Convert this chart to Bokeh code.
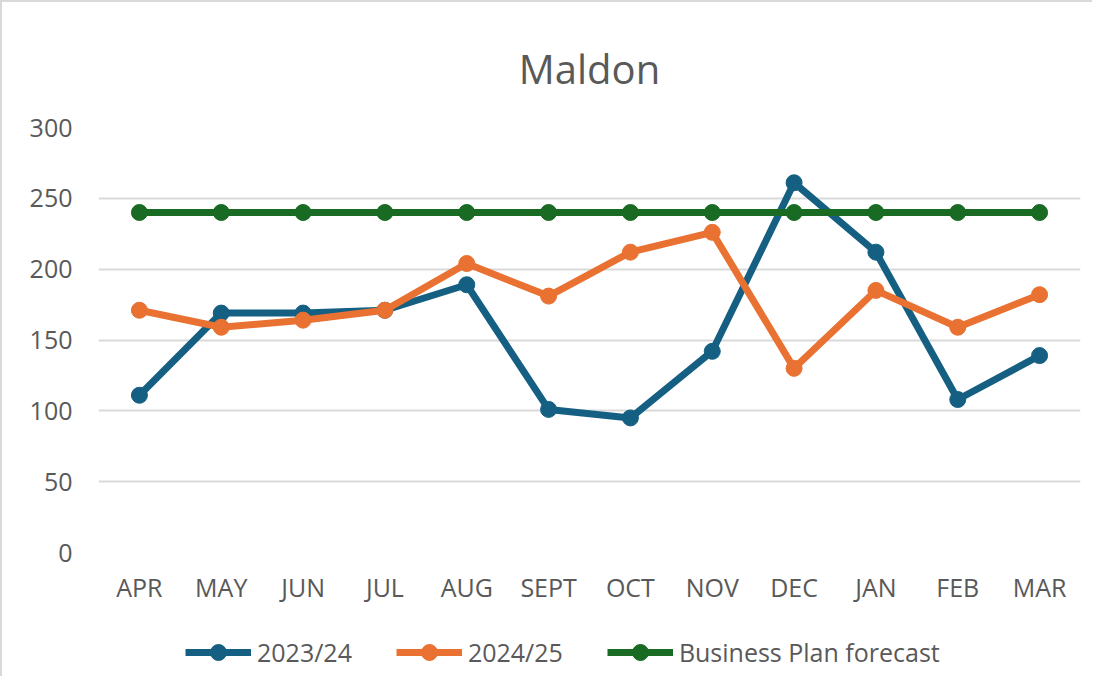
from bokeh.plotting import figure
from bokeh.layouts import column
from bokeh.models import Legend, LegendItem, FactorRange, Range1d, FixedTicker, Title
from bokeh.embed import file_html
from bokeh.resources import INLINE

months = ["APR", "MAY", "JUN", "JUL", "AUG", "SEPT", "OCT", "NOV", "DEC", "JAN", "FEB", "MAR"]
y_2023_24 = [111, 169, 169, 171, 189, 101, 95, 142, 261, 212, 108, 139]
y_2024_25 = [171, 159, 164, 171, 204, 181, 212, 226, 130, 185, 159, 182]
y_plan = [240, 240, 240, 240, 240, 240, 240, 240, 240, 240, 240, 240]
series_names = ["2023/24", "2024/25", "Business Plan forecast"]
y_ticks = [0, 50, 100, 150, 200, 250, 300]

colors = ["#156082", "#E97132", "#196B24"]
FONT = "Open Sans"
TEXT_COLOR = "#595959"

p = figure(
    width=1090, height=618,
    x_range=FactorRange(*months, range_padding=0),
    y_range=Range1d(0, 300),
    output_backend="svg", toolbar_location=None,
    min_border_left=96, min_border_right=12, min_border_top=125, min_border_bottom=68,
)
p.outline_line_color = None
p.background_fill_color = "white"
p.border_fill_color = "white"

t = Title(text="Maldon", align="center", text_font=FONT, text_font_size="40px",
          text_color=TEXT_COLOR, text_font_style="normal", standoff=64)
p.add_layout(t, "above")

p.xgrid.grid_line_color = None
p.ygrid.grid_line_color = "#d9d9d9"
p.ygrid.grid_line_width = 2
p.yaxis.ticker = FixedTicker(ticks=y_ticks)

for ax in (p.xaxis, p.yaxis):
    ax.axis_line_color = None
    ax.major_tick_line_color = None
    ax.minor_tick_line_color = None
    ax.major_label_text_font = FONT
    ax.major_label_text_font_size = "25px"
    ax.major_label_text_color = TEXT_COLOR
p.xaxis.major_label_standoff = 11
p.yaxis.major_label_standoff = 20

for ys, c in zip([y_2023_24, y_2024_25, y_plan], colors):
    p.line(months, ys, line_color=c, line_width=7, line_join="round")
    p.scatter(months, ys, size=16, fill_color=c, line_color=c)

# legend strip below the chart (its glyph renderers sit outside the visible range)
q = figure(
    width=1090, height=56,
    x_range=FactorRange(*months, range_padding=0),
    y_range=Range1d(1000, 1001),
    output_backend="svg", toolbar_location=None,
    min_border_left=0, min_border_right=0, min_border_top=0, min_border_bottom=0,
)
q.axis.visible = False
q.grid.grid_line_color = None
q.outline_line_color = None
q.border_fill_color = "white"

items = []
for name, ys, c in zip(series_names, [y_2023_24, y_2024_25, y_plan], colors):
    r1 = q.line(months, ys, line_color=c, line_width=7, line_join="round")
    r2 = q.scatter(months, ys, size=16, fill_color=c, line_color=c)
    items.append(LegendItem(label=name, renderers=[r1, r2]))

legend = Legend(items=items, orientation="horizontal", location=(87, 4),
                label_text_font=FONT, label_text_font_size="25px", label_text_color=TEXT_COLOR,
                glyph_width=66, glyph_height=40, label_standoff=6, spacing=44,
                border_line_color=None, background_fill_alpha=0, margin=0, padding=0)
q.add_layout(legend, "center")

layout = column(p, q, spacing=0)
layout.styles = {"border-left": "2px solid #d9d9d9", "border-top": "2px solid #d9d9d9"}
open("out.html", "w").write(file_html(layout, INLINE))
